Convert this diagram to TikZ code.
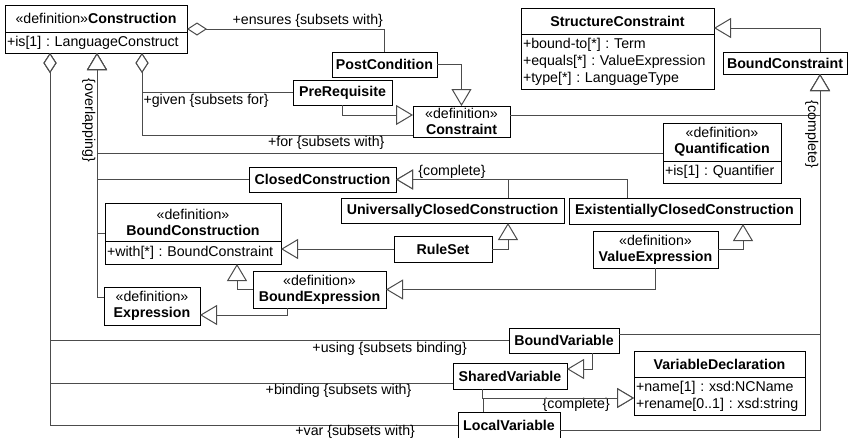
\documentclass[tikz,border=0pt]{standalone}
\usepackage{fontspec}
\setmainfont{Liberation Sans}
\usetikzlibrary{arrows.meta,positioning}
\frenchspacing

\tikzset{
  cls/.style={draw, fill=white, inner sep=1pt, outer sep=0pt, align=center},
  attr/.style={draw, fill=white, inner xsep=2pt, inner ysep=1pt, outer sep=0pt, align=left,
    font=\fontsize{14.2}{17}\selectfont},
  lne/.style={draw=black!70, line width=1pt},
  gen/.style={lne, -{Triangle[length=17pt,width=20pt,fill=white]}},
  agg/.style={lne, {Diamond[length=20pt,width=13pt,fill=white]}-},
  lbl/.style={inner sep=1pt, text=black},
}

\begin{document}
\begin{tikzpicture}[x=1pt, y=-1pt, font=\fontsize{14.2}{16}\selectfont, line width=1pt]
  \useasboundingbox (0,0) rectangle (853,437);

  \node[cls, minimum width=182pt, minimum height=27pt] (cons) at (96,18.5) {«definition»\textbf{Construction}};
  \node[attr, text width=178pt, minimum height=21pt, below=0pt of cons] (consA) {+is[1] : LanguageConstruct};
  \node[cls, minimum width=193pt, minimum height=26pt] (strc) at (617.5,21) {\textbf{StructureConstraint}};
  \node[attr, text width=189pt, minimum height=55pt, below=0pt of strc] (strcA) {+bound-to[*] : Term\\+equals[*] : ValueExpression\\+type[*] : LanguageType};
  \node[cls, minimum width=124pt, minimum height=22pt] (bcon) at (785,63) {\textbf{BoundConstraint}};
  \node[cls, minimum width=105pt, minimum height=25pt] (post) at (384.5,64.5) {\textbf{PostCondition}};
  \node[cls, minimum width=99pt, minimum height=25pt] (prer) at (342.5,92.5) {\textbf{PreRequisite}};
  \node[cls, minimum width=97pt, minimum height=31pt] (cstr) at (461.5,121.5) {«definition»\\\textbf{Constraint}};
  \node[cls, minimum width=118pt, minimum height=38pt] (quant) at (722,142) {«definition»\\\textbf{Quantification}};
  \node[attr, text width=114pt, minimum height=22pt, below=0pt of quant] (quantA) {+is[1] : Quantifier};
  \node[cls, minimum width=147pt, minimum height=25pt] (clos) at (322.5,179.5) {\textbf{ClosedConstruction}};
  \node[cls, minimum width=223pt, minimum height=25pt] (ucl) at (452.5,210.5) {\textbf{UniversallyClosedConstruction}};
  \node[cls, minimum width=231pt, minimum height=26pt] (ecl) at (684.5,211) {\textbf{ExistentiallyClosedConstruction}};
  \node[cls, minimum width=98pt, minimum height=26pt] (rules) at (443,249) {\textbf{RuleSet}};
  \node[cls, minimum width=176pt, minimum height=38pt] (bcons) at (193,222) {«definition»\\\textbf{BoundConstruction}};
  \node[attr, text width=172pt, minimum height=23pt, below=0pt of bcons] (bconsA) {+with[*] : BoundConstraint};
  \node[cls, minimum width=125pt, minimum height=37pt] (vexp) at (655.5,249.5) {«definition»\\\textbf{ValueExpression}};
  \node[cls, minimum width=133pt, minimum height=37pt] (bexp) at (319.5,289.5) {«definition»\\\textbf{BoundExpression}};
  \node[cls, minimum width=96pt, minimum height=38pt] (expr) at (152,306) {«definition»\\\textbf{Expression}};
  \node[cls, minimum width=110pt, minimum height=25pt] (bvar) at (564,340.5) {\textbf{BoundVariable}};
  \node[cls, minimum width=114pt, minimum height=26pt] (svar) at (510,376) {\textbf{SharedVariable}};
  \node[cls, minimum width=171pt, minimum height=26pt] (vdec) at (719.5,364) {\textbf{VariableDeclaration}};
  \node[attr, text width=167pt, minimum height=38pt, below=0pt of vdec] (vdecA) {+name[1] : xsd:NCName\\+rename[0..1] : xsd:string};
  \node[cls, minimum width=102pt, minimum height=26pt] (lvar) at (509,425) {\textbf{LocalVariable}};

  \coordinate (cT) at ([xshift=1pt]consA.south);
  \coordinate (bcT) at ([xshift=35pt]bcon.south);

  % kinds of construction
  \draw[gen] ([yshift=-11pt]quant.west) -| (cT);
  \draw[gen] (clos.west) -| (cT);
  \draw[gen] ([yshift=-11pt]bcons.west) -| (cT);
  \draw[gen] ([yshift=9pt]expr.west) -| (cT) node[lbl, pos=0.95, rotate=-90, anchor=north west] {\{overlapping\}};

  \draw[gen] ([xshift=55.5pt]ucl.north) |- (clos.east) node[lbl, pos=0.75, above] {\{complete\}};
  \draw[gen] ([xshift=-57.5pt]ecl.north) |- (clos.east);
  \draw[gen] (rules.east) -| ([xshift=55.5pt]ucl.south);
  \draw[gen] (rules.west) -- (rules.west -| bconsA.east);
  \draw[gen] (bexp.west) -| ([xshift=44pt]bconsA.south);
  \draw[gen] ([xshift=-32.5pt]bexp.south) |- ([yshift=-9pt]expr.east);
  \draw[gen] (vexp.east) -| ([xshift=58.5pt]ecl.south);
  \draw[gen] (vexp.south) |- (bexp.east);

  % constraints
  \draw[gen] (post.east) -| (cstr.north);
  \draw[gen] (prer.south) |- ([yshift=6.5pt]cstr.west);
  \draw[gen] ([yshift=6.5pt]cstr.east) -| (bcT);
  \draw[gen] ([yshift=6.5pt]bvar.east) -| (bcT);
  \draw[gen] ([yshift=-5pt]lvar.east) -| (bcT) node[lbl, pos=0.915, rotate=-90, anchor=north] {\{complete\}};
  \draw[gen] ([xshift=35pt]bcon.north) |- ([yshift=-7pt]strc.east);

  % variables
  \draw[gen] ([xshift=28pt]bvar.south) |- ([yshift=7pt]svar.east);
  \draw[gen] ([xshift=-28pt]svar.south) |- ([yshift=-2pt]vdecA.west) node[lbl, pos=0.81, below, inner sep=0pt] {\{complete\}};
  \draw[gen] ([xshift=-26pt]lvar.north) |- ([yshift=-2pt]vdecA.west);

  % associations
  \draw[agg] ([yshift=3pt]cons.south east) -| (post.north) node[lbl, pos=0.5, above left] {+ensures \{subsets with\}};
  \draw[agg] ([xshift=46pt]consA.south) |- (prer.west) node[lbl, pos=0.5, below right] {+given \{subsets for\}};
  \draw[agg] ([xshift=46pt]consA.south) |- ([yshift=2pt]cstr.south west) node[lbl, pos=0.84, below] {+for \{subsets with\}};
  \draw[agg] ([xshift=-46pt]consA.south) |- (bvar.west) node[lbl, pos=0.87, below] {+using \{subsets binding\}};
  \draw[agg] ([xshift=-46pt]consA.south) |- ([yshift=-7pt]svar.west) node[lbl, pos=0.858, below] {+binding \{subsets with\}};
  \draw[agg] ([xshift=-46pt]consA.south) |- (lvar.west) node[lbl, pos=0.874, below, inner sep=0pt] {+var \{subsets with\}};
\end{tikzpicture}
\end{document}
